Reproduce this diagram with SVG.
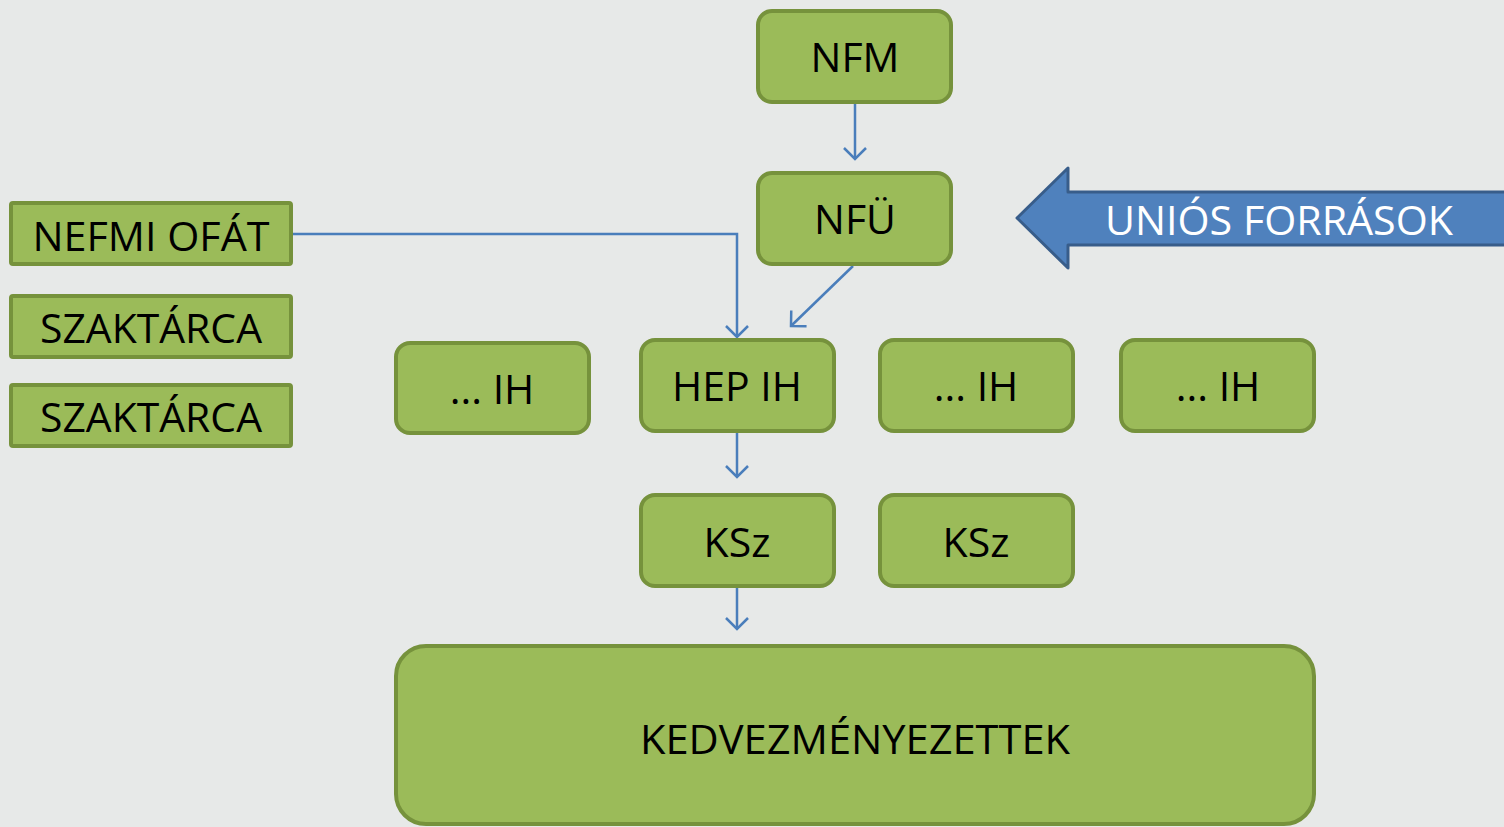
<svg xmlns="http://www.w3.org/2000/svg" width="1504" height="827" viewBox="0 0 1504 827">
<defs>
<style>
.n{fill:#9bbb59;stroke:#76923c;stroke-width:4}
.t{font-family:"Open Sans","Liberation Sans",sans-serif;font-size:41px;fill:#000;text-anchor:middle}
.c{fill:none;stroke:#4a7ebb;stroke-width:2.5}
</style>
<marker id="a" markerWidth="26" markerHeight="26" refX="13" refY="13" orient="auto" markerUnits="userSpaceOnUse" viewBox="0 0 26 26">
<path d="M2,2 L13,13 L2,24" fill="none" stroke="#4a7ebb" stroke-width="2.5"/>
</marker>
</defs>
<rect width="1504" height="827" fill="#e7e9e8"/>
<g id="connectors">
<path class="c" d="M855,102 V159" marker-end="url(#a)"/>
<path class="c" d="M853,266 L791,326" marker-end="url(#a)"/>
<path class="c" d="M291,234 H737 V337" marker-end="url(#a)"/>
<path class="c" d="M737,433 V477" marker-end="url(#a)"/>
<path class="c" d="M737,587 V629" marker-end="url(#a)"/>
</g>
<g id="unios">
<path d="M1017,218 L1068,168 V192 H1510 V245 H1068 V268 Z" fill="#4f81bd" stroke="#385d8a" stroke-width="3" stroke-linejoin="round"/>
<text x="1279" y="235" class="t" style="fill:#fff" textLength="348" lengthAdjust="spacingAndGlyphs">UNIÓS FORRÁSOK</text>
</g>
<g id="nfm"><rect class="n" x="758" y="11" width="193" height="91" rx="14"/><text class="t" x="855" y="72">NFM</text></g>
<g id="nfu"><rect class="n" x="758" y="173" width="193" height="91" rx="14"/><text class="t" x="855" y="234">NFÜ</text></g>
<g id="nefmi"><rect class="n" x="11" y="203" width="280" height="61" rx="2"/><text class="t" x="151" y="251" textLength="237" lengthAdjust="spacingAndGlyphs">NEFMI OFÁT</text></g>
<g id="szak1"><rect class="n" x="11" y="296" width="280" height="61" rx="2"/><text class="t" x="151" y="343" textLength="222" lengthAdjust="spacingAndGlyphs">SZAKTÁRCA</text></g>
<g id="szak2"><rect class="n" x="11" y="385" width="280" height="61" rx="2"/><text class="t" x="151" y="432" textLength="222" lengthAdjust="spacingAndGlyphs">SZAKTÁRCA</text></g>
<g id="ih1"><rect class="n" x="396" y="343" width="193" height="90" rx="14"/><text class="t" x="492" y="404">... IH</text></g>
<g id="hepih"><rect class="n" x="641" y="340" width="193" height="91" rx="14"/><text class="t" x="737" y="401">HEP IH</text></g>
<g id="ih2"><rect class="n" x="880" y="340" width="193" height="91" rx="14"/><text class="t" x="976" y="401">... IH</text></g>
<g id="ih3"><rect class="n" x="1121" y="340" width="193" height="91" rx="14"/><text class="t" x="1218" y="401">... IH</text></g>
<g id="ksz1"><rect class="n" x="641" y="495" width="193" height="91" rx="14"/><text class="t" x="737" y="557">KSz</text></g>
<g id="ksz2"><rect class="n" x="880" y="495" width="193" height="91" rx="14"/><text class="t" x="976" y="557">KSz</text></g>
<g id="kedv"><rect class="n" x="396" y="646" width="918" height="178" rx="30"/><text class="t" x="855" y="754" textLength="430" lengthAdjust="spacingAndGlyphs">KEDVEZMÉNYEZETTEK</text></g>
</svg>
